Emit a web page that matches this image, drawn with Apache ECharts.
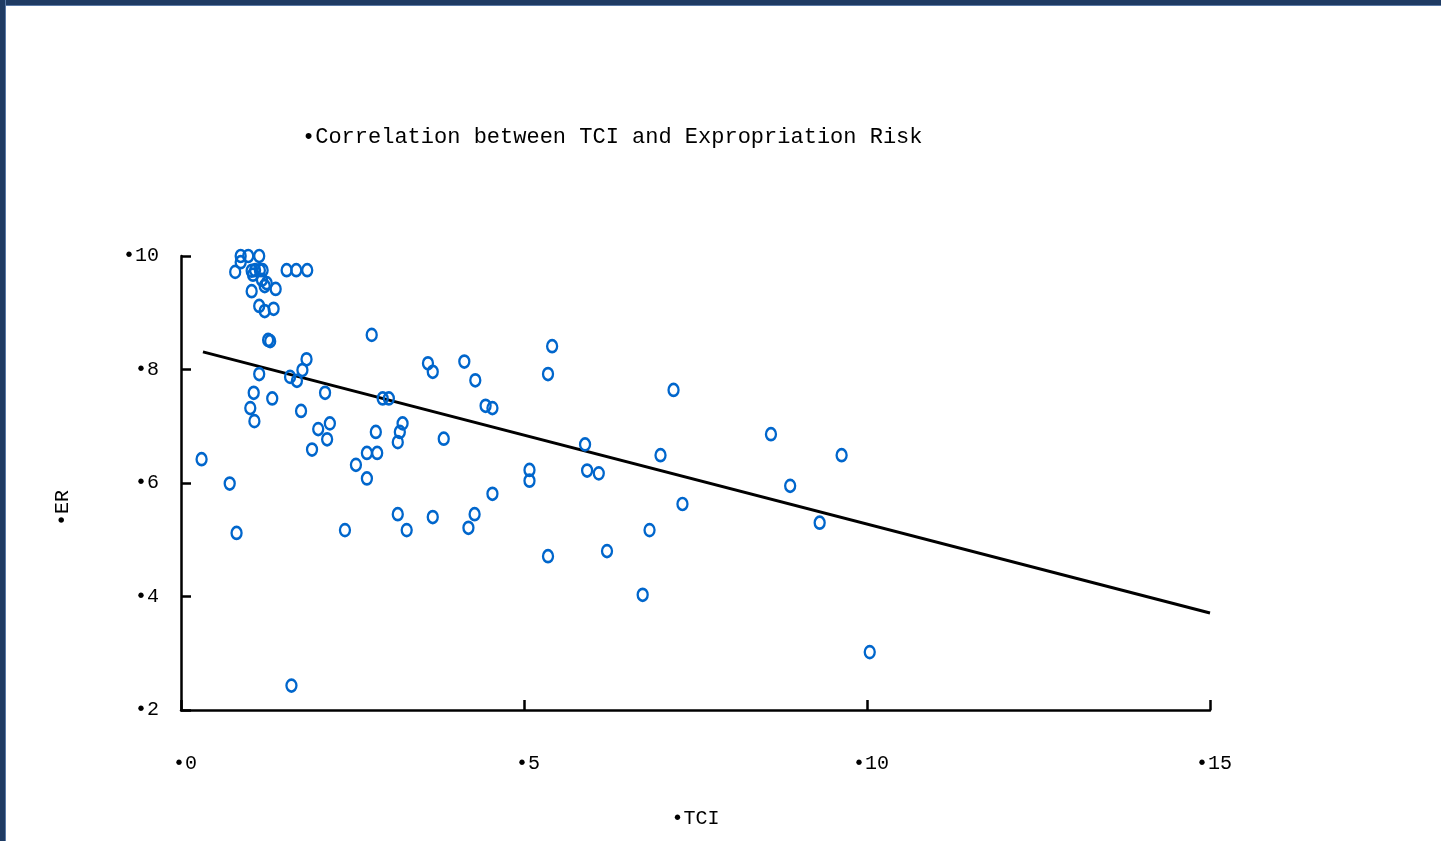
<!DOCTYPE html>
<html>
<head>
<meta charset="utf-8">
<script src="https://cdn.jsdelivr.net/npm/echarts@6/dist/echarts.min.js"></script>
<style>
  html, body { margin: 0; padding: 0; background: #fff; }
  #wrap { position: relative; width: 1441px; height: 841px; overflow: hidden; background: #fff; }
  #chart { position: absolute; left: 0; top: 0; width: 1441px; height: 841px; }
  .bar-top { position: absolute; left: 0; top: 0; width: 1441px; height: 6px; background: #1f3b63; border-bottom: 1px solid #5b7aa6; box-sizing: border-box; }
  .bar-left { position: absolute; left: 0; top: 0; width: 6px; height: 841px; background: #1f3b63; border-right: 1px solid #5b7aa6; box-sizing: border-box; }
</style>
</head>
<body>
<div id="wrap">
  <div id="chart"></div>
  <div class="bar-top"></div>
  <div class="bar-left"></div>
</div>
<script>
// ---- Data ----
const chartTitle = '•Correlation between TCI and Expropriation Risk';
const xAxisName = '•TCI';
const yAxisName = '•ER';

const tciValues = [
  0.87, 0.87, 0.98, 1.14, 0.79, 1.03, 1.08, 1.15, 1.19, 1.05, 1.54, 1.68, 1.84,
  1.18, 1.25, 1.22, 1.38, 1.03, 1.14, 1.22, 1.35, 1.27, 1.30,
  1.83, 1.77, 1.14, 1.59, 1.69, 2.10, 1.06, 1.33, 1.01, 1.75, 1.07, 2.17, 2.00,
  2.13, 1.91, 0.30, 0.71, 0.81,
  2.55, 2.71, 2.86, 2.71, 2.39, 2.78, 3.60, 3.67, 4.13, 4.29, 5.41, 5.35, 2.94,
  3.03, 4.44, 4.54, 2.84, 3.23, 3.19, 3.16, 3.83, 5.08, 5.08, 4.54, 3.16, 3.67,
  4.28, 4.19, 3.29,
  7.18, 5.89, 6.99, 5.92, 6.09, 7.31, 6.83, 6.21, 5.35, 6.73, 8.60, 9.63, 8.88,
  9.31, 10.04, 1.61
];
const erValues = [
  10.0, 9.89, 10.0, 10.0, 9.72, 9.74, 9.75, 9.75, 9.75, 9.67, 9.75, 9.75, 9.75,
  9.58, 9.52, 9.47, 9.42, 9.38, 9.12, 9.03, 9.07, 8.52, 8.50,
  8.18, 7.99, 7.92, 7.87, 7.80, 7.59, 7.59, 7.49, 7.32, 7.27, 7.09, 7.05, 6.95,
  6.77, 6.59, 6.42, 5.99, 5.12,
  6.32, 6.53, 6.53, 6.08, 5.17, 8.61, 8.11, 7.96, 8.14, 7.81, 8.41, 7.92, 7.49,
  7.49, 7.36, 7.32, 6.90, 7.05, 6.90, 6.72, 6.78, 6.23, 6.04, 5.81, 5.45, 5.40,
  5.45, 5.21, 5.17,
  7.64, 6.68, 6.49, 6.22, 6.17, 5.63, 5.17, 4.80, 4.71, 4.03, 6.86, 6.49, 5.95,
  5.30, 3.02, 2.43
];

// Linear trend line end points
const trendX = [0.32, 15];
const trendY = [8.31, 3.71];

// Axis ranges / ticks
const xTicks = [0, 5, 10, 15];
const yTicks = [2, 4, 6, 8, 10];

// ---- Build chart ----
const points = tciValues.map((x, i) => [x, erValues[i]]);
const trend = trendX.map((x, i) => [x, trendY[i]]);

const monoFont = '"Liberation Mono", "DejaVu Sans Mono", monospace';

const chart = echarts.init(document.getElementById('chart'), null, { renderer: 'canvas' });
chart.setOption({
  backgroundColor: '#ffffff',
  animation: false,
  title: {
    text: chartTitle,
    left: 297,
    top: 121,
    textStyle: { fontFamily: monoFont, fontSize: 22, fontWeight: 'normal', color: '#000' }
  },
  grid: { left: 181, right: 231, top: 256, bottom: 131, containLabel: false },
  xAxis: {
    type: 'value',
    min: xTicks[0],
    max: xTicks[xTicks.length - 1],
    interval: xTicks[1] - xTicks[0],
    name: xAxisName,
    nameLocation: 'middle',
    nameGap: 99,
    nameTextStyle: { fontFamily: monoFont, fontSize: 20, color: '#000', verticalAlign: 'top' },
    axisLine: { show: true, lineStyle: { color: '#000', width: 2.5 } },
    axisTick: { show: true, inside: true, length: 10, lineStyle: { color: '#000', width: 2.5 } },
    axisLabel: {
      formatter: v => '•' + v,
      fontFamily: monoFont, fontSize: 20, color: '#000',
      margin: 44, padding: [0, 0, 0, 8]
    },
    splitLine: { show: false }
  },
  yAxis: {
    type: 'value',
    min: yTicks[0],
    max: yTicks[yTicks.length - 1],
    interval: yTicks[1] - yTicks[0],
    name: yAxisName,
    nameLocation: 'middle',
    nameRotate: 90,
    nameGap: 108,
    nameTextStyle: { fontFamily: monoFont, fontSize: 20, color: '#000', padding: [0, 50, 0, 0] },
    axisLine: { show: true, lineStyle: { color: '#000', width: 2.5 } },
    axisTick: { show: true, inside: true, length: 10, lineStyle: { color: '#000', width: 2.5 } },
    axisLabel: {
      formatter: v => '•' + v,
      fontFamily: monoFont, fontSize: 20, color: '#000',
      margin: 22
    },
    splitLine: { show: false }
  },
  series: [
    {
      type: 'scatter',
      data: points,
      clip: false,
      symbol: 'circle',
      symbolSize: [10, 12],
      itemStyle: { color: 'rgba(0,0,0,0)', borderColor: '#0066cc', borderWidth: 2.5, opacity: 1 },
      z: 3
    },
    {
      type: 'line',
      data: trend,
      showSymbol: false,
      symbol: 'none',
      clip: false,
      lineStyle: { color: '#000', width: 3 },
      z: 2
    }
  ]
});
</script>
</body>
</html>
